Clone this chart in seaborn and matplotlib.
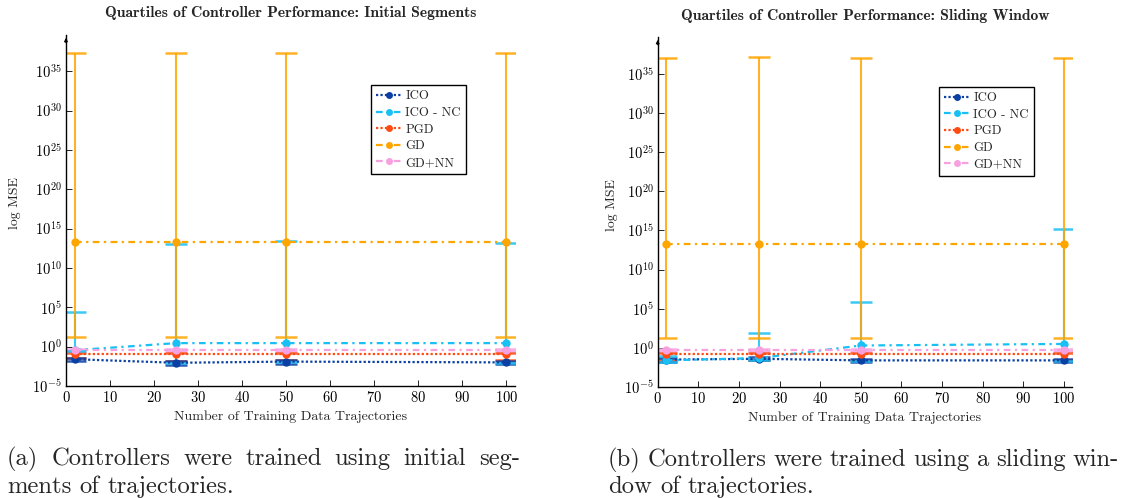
import numpy as np
import pandas as pd
import matplotlib
matplotlib.use("Agg")
import matplotlib.pyplot as plt
import seaborn as sns

# ---------------- data (log10 of MSE quartiles) ----------------
x_traj = [2, 25, 50, 100]
methods = ["ICO", "ICO - NC", "PGD", "GD", "GD+NN"]

# Initial segments panel
init_med = {
    "ICO":      [-1.6, -2.05, -1.9, -2.0],
    "ICO - NC": [-0.45, 0.45, 0.45, 0.45],
    "PGD":      [-0.95, -0.95, -0.95, -0.95],
    "GD":       [13.3, 13.3, 13.3, 13.3],
    "GD+NN":    [-0.4, -0.4, -0.4, -0.4],
}
init_q1 = {
    "ICO":      [-1.8, -2.3, -2.15, -2.25],
    "ICO - NC": [-0.6, -2.1, -2.0, -2.1],
    "PGD":      [-1.5, -1.8, -1.7, -1.7],
    "GD":       [1.2, 1.2, 1.2, 1.2],
    "GD+NN":    [-0.5, -0.5, -0.5, -0.5],
}
init_q3 = {
    "ICO":      [-1.4, -1.85, -1.7, -1.8],
    "ICO - NC": [4.4, 13.1, 13.4, 13.2],
    "PGD":      [-0.75, -0.75, -0.75, -0.75],
    "GD":       [37.3, 37.3, 37.3, 37.3],
    "GD+NN":    [-0.3, -0.3, -0.3, -0.3],
}

# Sliding window panel
slide_med = {
    "ICO":      [-1.5, -1.4, -1.6, -1.6],
    "ICO - NC": [-1.6, -1.3, 0.3, 0.5],
    "PGD":      [-0.75, -0.75, -0.75, -0.75],
    "GD":       [13.3, 13.3, 13.3, 13.3],
    "GD+NN":    [-0.3, -0.3, -0.3, -0.3],
}
slide_q1 = {
    "ICO":      [-1.75, -1.6, -1.8, -1.8],
    "ICO - NC": [-1.8, -1.5, -1.7, -1.7],
    "PGD":      [-1.5, -1.5, -1.6, -1.6],
    "GD":       [1.3, 1.3, 1.3, 1.3],
    "GD+NN":    [-0.45, -0.45, -0.45, -0.45],
}
slide_q3 = {
    "ICO":      [-1.3, -1.2, -1.4, -1.4],
    "ICO - NC": [-1.1, 1.9, 5.9, 15.2],
    "PGD":      [-0.6, -0.6, -0.6, -0.6],
    "GD":       [37.0, 37.2, 37.0, 37.0],
    "GD+NN":    [-0.2, -0.2, -0.2, -0.2],
}

titles = ["Quartiles of Controller Performance: Initial Segments",
          "Quartiles of Controller Performance: Sliding Window"]
captions = [["(a) Controllers were trained using initial seg-", "ments of trajectories."],
            ["(b) Controllers were trained using a sliding win-", "dow of trajectories."]]
xlabel = "Number of Training Data Trajectories"
ylabel = "log MSE"
xticks = [0, 10, 20, 30, 40, 50, 60, 70, 80, 90, 100]
yexp = [-5, 0, 5, 10, 15, 20, 25, 30, 35]

# ---------------- styles ----------------
colors = {"ICO": "#0a3fa3", "ICO - NC": "#18c0f5", "PGD": "#ff4a12",
          "GD": "#ffa500", "GD+NN": "#f7a0e0"}
dashes = {"ICO": (1, 1), "ICO - NC": (3, 2, 1, 2), "PGD": (1, 1),
          "GD": (3, 2, 1, 2), "GD+NN": (3, 2, 1, 2)}

sns.set_theme(style="ticks")
plt.rcParams["font.family"] = ["cmr10", "DejaVu Serif"]
plt.rcParams["mathtext.fontset"] = "cm"
plt.rcParams["axes.formatter.use_mathtext"] = True
plt.rcParams["axes.unicode_minus"] = False

fig = plt.figure(figsize=(11.22, 4.98), dpi=100)
positions = [[0.0588, 0.2249, 0.4002, 0.7048],
             [0.5862, 0.2229, 0.3692, 0.7028]]
ytops = [39.6, 39.7]
ylab_x = [15 / 1122, 612 / 1122]

panels = [(init_med, init_q1, init_q3), (slide_med, slide_q1, slide_q3)]

for i, (med, q1, q3) in enumerate(panels):
    ax = fig.add_axes(positions[i])
    rows = []
    for m in methods:
        for xv, v in zip(x_traj, med[m]):
            rows.append({"x": xv, "y": 10 ** v, "method": m})
    df = pd.DataFrame(rows)
    # error bars (quartiles)
    order_err = ["GD+NN", "PGD", "ICO", "ICO - NC", "GD"]
    for m in order_err:
        y = 10 ** np.array(med[m])
        lo = y - 10 ** np.array(q1[m])
        hi = 10 ** np.array(q3[m]) - y
        ax.errorbar(x_traj, y, yerr=[lo, hi], fmt="none", ecolor=colors[m],
                    elinewidth=1.5, capsize=8, capthick=1.8, alpha=0.85, zorder=2)
    sns.lineplot(data=df, x="x", y="y", hue="method", style="method",
                 hue_order=methods, style_order=methods,
                 palette=colors, dashes=dashes, markers={m: "o" for m in methods},
                 markersize=6, markeredgewidth=0, linewidth=1.6, ax=ax, zorder=3,
                 legend=True)
    ax.set_yscale("log")
    ax.set_xlim(0, 102)
    ax.set_ylim(1e-5, 10 ** ytops[i])
    ax.set_xticks(xticks)
    ax.set_yticks([10.0 ** e for e in yexp])
    ax.yaxis.set_minor_locator(matplotlib.ticker.NullLocator())
    ax.tick_params(axis="both", direction="in", length=4, width=0.6,
                   labelsize=10.5, colors="black", pad=3)
    ax.spines["top"].set_visible(False)
    ax.spines["right"].set_visible(False)
    for s in ("left", "bottom"):
        ax.spines[s].set_linewidth(1.0)
        ax.spines[s].set_color("black")
    ax.annotate("", xy=(0, 1.0), xytext=(0, 0.97), xycoords="axes fraction",
                arrowprops=dict(arrowstyle="-|>", color="black", lw=0.8,
                                mutation_scale=5))
    ax.set_xlabel(xlabel, fontsize=10, labelpad=4)
    ax.set_ylabel("")
    fig.text(ylab_x[i], positions[i][1] + positions[i][3] * 0.52, ylabel,
             rotation=90, ha="center", va="center", fontsize=10)
    ax.set_title(titles[i], fontsize=11.3, fontweight="bold",
                 family=["cmb10", "DejaVu Serif"], pad=13 if i == 0 else 12)
    handles, labels = ax.get_legend_handles_labels()
    leg = ax.legend(handles, labels, loc="upper left",
                    bbox_to_anchor=(0.679, 0.857), borderaxespad=0,
                    fontsize=9.2, frameon=True, fancybox=False, framealpha=1,
                    edgecolor="black", handlelength=2.0, handletextpad=0.3,
                    labelspacing=0.35, borderpad=0.4)
    leg.get_frame().set_linewidth(1.0)
    for h in leg.get_lines():
        h.set_markersize(5)

# ---------------- captions ----------------
W, H = 1122, 498
renderer = fig.canvas.get_renderer()

probe = fig.text(0, 0, "Controllers", fontsize=16)
pw = probe.get_window_extent(renderer).width
probe.remove()
cap_size = 16 * 119.0 / pw


def word_line(line, x0_px, y_px, size, x1_px=None, gap_em=0.333):
    words = line.split(" ")
    texts = [fig.text(0, 1 - y_px / H, w, fontsize=size, ha="left", va="center")
             for w in words]
    widths = [t.get_window_extent(renderer).width for t in texts]
    if x1_px is None:
        gap = gap_em * size * 100 / 72.0
    else:
        gap = (x1_px - x0_px - sum(widths)) / (len(words) - 1)
    x = x0_px
    for t, w in zip(texts, widths):
        t.set_x(x / W)
        x += w + gap


word_line(captions[0][0], 7, 459, cap_size, x1_px=520)
word_line(captions[0][1], 7, 487, cap_size)
word_line(captions[1][0], 608, 460, cap_size, x1_px=1119)
word_line(captions[1][1], 608, 487, cap_size)

fig.savefig("out.png", dpi=100)
